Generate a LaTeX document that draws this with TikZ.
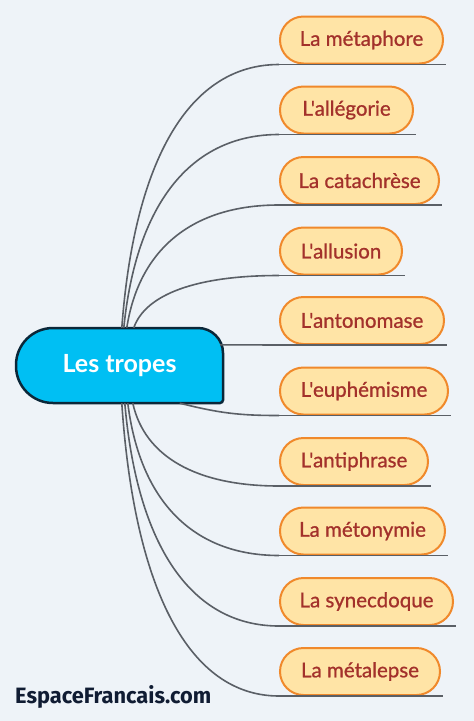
\documentclass[tikz,border=0pt]{standalone}
\usepackage{fontspec}
\usepackage{graphicx}
\setmainfont{Lato}
\newfontfamily\leaffont[FakeBold=0.9]{Lato}
\newfontfamily\wmfont{Fira Sans}
\usetikzlibrary{calc}
\definecolor{bg}{HTML}{EEF3F8}
\definecolor{hubfill}{HTML}{00BFF3}
\definecolor{hubline}{HTML}{0B2739}
\definecolor{leaffill}{HTML}{FFE4A6}
\definecolor{leafline}{HTML}{F0892B}
\definecolor{leaftext}{HTML}{A3312B}
\definecolor{conncol}{HTML}{5A5F66}
\definecolor{wmcol}{HTML}{101C33}
\newcommand\apos{\symbol{39}}
\tikzset{
  leaf/.style={draw=leafline, fill=leaffill, line width=2pt, rounded corners=23.5pt,
    minimum height=47pt, inner sep=0pt, text=leaftext, font=\leaffont\fontsize{20.5}{22}\selectfont, anchor=west},
  conn/.style={draw=conncol, line width=1.6pt},
}
\newcommand\tropebranch[2]{\draw[conn] let \p1=(#1), \p2=(#2) in (\p1) .. controls ({\x1+0.08*(\x2-\x1)},{\y1+0.64*(\y2-\y1)}) and ({\x2-0.57*(\x2-\x1)},\y2) .. (\p2);}
\newcommand\tropeline[1]{\draw[conn] (#1.south west) -- ($(#1.south east)+(2,0)$);}
\begin{document}
\begin{tikzpicture}[x=1pt,y=-1pt]
\fill[bg] (0,0) rectangle (474,721);
\useasboundingbox (0,0) rectangle (474,721);

% leaves
\node[leaf, minimum width=163pt] (n1) at (279,40) {La métaphore};
\node[leaf, minimum width=133pt] (n2) at (279,110) {L\apos allégorie};
\node[leaf, minimum width=159pt] (n3) at (279,180.5) {La catachrèse};
\node[leaf, minimum width=122pt] (n4) at (279,251) {L\apos allusion};
\node[leaf, minimum width=164pt] (n5) at (279,320.5) {L\apos antonomase};
\node[leaf, minimum width=168pt] (n6) at (279,391) {L\apos euphémisme};
\node[leaf, minimum width=148pt] (n7) at (279,461.5) {L\apos antiphrase};
\node[leaf, minimum width=165pt] (n8) at (279,531) {La métonymie};
\node[leaf, minimum width=173pt] (n9) at (279,601.5) {La synecdoque};
\node[leaf, minimum width=160pt] (n10) at (279,671.5) {La métalepse};

% hub shape
\draw[draw=hubline, fill=hubfill, line width=2.5pt]
  (120,403) [rounded corners=3pt] -- (223,403) [rounded corners=25pt] -- (223,328)
  [rounded corners=37pt] -- (16,328) -- (16,403) [sharp corners] -- cycle;
\node[inner sep=0pt, minimum width=207pt, minimum height=75pt, text=white,
  font=\fontsize{25}{27}\selectfont\bfseries] (hub) at (119.5,365.5) {Les tropes};

% start points
\coordinate (s1) at ($(hub.north west)+(106,0)$);
\coordinate (s2) at ($(hub.north west)+(108,0)$);
\coordinate (s3) at ($(hub.north west)+(111,0)$);
\coordinate (s4) at ($(hub.north west)+(118,0)$);
\coordinate (s5) at ($(hub.north east)+(-3,17)$);
\coordinate (s6) at ($(hub.south west)+(164,0)$);
\coordinate (s7) at ($(hub.south west)+(117,0)$);
\coordinate (s8) at ($(hub.south west)+(112,0)$);
\coordinate (s9) at ($(hub.south west)+(109,0)$);
\coordinate (s10) at ($(hub.south west)+(106,0)$);

\tropebranch{s1}{n1.south west}
\tropebranch{s2}{n2.south west}
\tropebranch{s3}{n3.south west}
\tropebranch{s4}{n4.south west}
\draw[conn] (s5) -- (n5.south west);
\draw[conn] (s6) .. controls ($(s6)+(40,10)$) and ($(n6.south west)+(-40,0)$) .. (n6.south west);
\tropebranch{s7}{n7.south west}
\tropebranch{s8}{n8.south west}
\tropebranch{s9}{n9.south west}
\tropebranch{s10}{n10.south west}

\foreach \n in {n1,n2,n3,n4,n5,n6,n7,n8,n9,n10} {\tropeline{\n}}

% watermark
\node[anchor=west, inner sep=0pt, text=wmcol] (wm) at (15,697)
  {\resizebox{196pt}{18pt}{\wmfont\bfseries EspaceFrancais.com}};
\end{tikzpicture}
\end{document}
